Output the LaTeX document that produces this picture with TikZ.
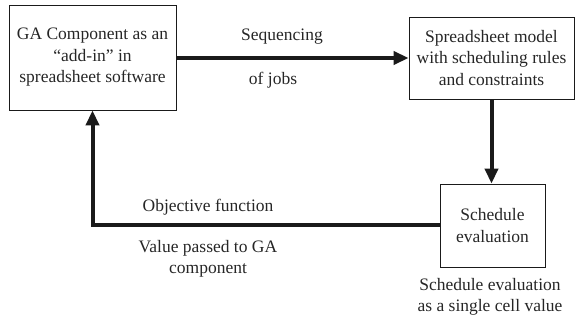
\documentclass[tikz,border=0pt]{standalone}
\usepackage{fontspec}
\setmainfont{Liberation Serif}
\usetikzlibrary{arrows.meta}
\definecolor{ink}{HTML}{1A1A1A}
\definecolor{txt}{HTML}{262626}
\begin{document}
\begin{tikzpicture}[x=1pt,y=-1pt,
  box/.style={draw=ink,line width=0.8pt,rectangle,align=center,text=txt,inner sep=0pt},
  lbl/.style={align=center,text=txt,inner sep=0pt},
  flow/.style={draw=ink,line width=4pt,-{Triangle[length=15pt,width=13pt]}},
  every node/.style={font=\rmfamily\fontsize{17.5}{21.5}\selectfont}]
\useasboundingbox (0,0) rectangle (575,320);
\node[box,minimum width=167pt,minimum height=105pt] (A) at (92.5,57.5)
  {GA Component as an\\``add-in'' in\\spreadsheet software};
\node[box,minimum width=165pt,minimum height=82pt] (B) at (491.5,58)
  {Spreadsheet model\\with scheduling rules\\and constraints};
\node[box,minimum width=105pt,minimum height=83pt] (C) at (492.5,225.5)
  {Schedule\\evaluation};
\draw[flow] (A.east |- 0,58) -- (B.west |- 0,58);
\draw[flow] (B.south) -- (B.south |- C.north);
\draw[flow] (C.west) -| (A.south);
\node[lbl] (s1) at (282,37) {Sequencing};
\node[lbl] (s2) at (273,80) {of jobs};
\node[lbl] (o1) at (208,207) {Objective function};
\node[lbl] (o2) at (208,259) {Value passed to GA\\component};
\node[lbl] (e1) at (490,297) {Schedule evaluation\\as a single cell value};
\end{tikzpicture}
\end{document}
